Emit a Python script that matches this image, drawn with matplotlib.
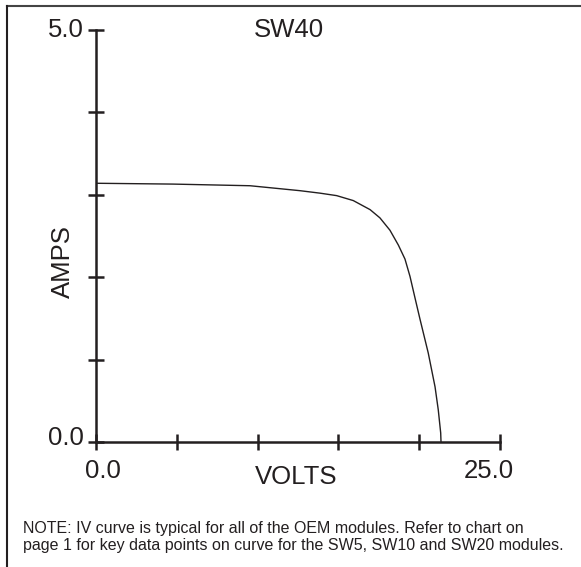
import numpy as np
import matplotlib.pyplot as plt
from matplotlib.lines import Line2D

plt.rcParams['font.family'] = ['Liberation Sans', 'DejaVu Sans']

# IV curve
volts = [0.0, 4.76, 9.53, 12.62, 13.86, 14.89, 15.92, 16.96, 17.57, 18.19,
         18.71, 19.12, 19.43, 19.75, 20.05, 20.56, 20.98, 21.18, 21.33, 21.35]
amps = [3.14, 3.13, 3.11, 3.05, 3.02, 2.99, 2.93, 2.82, 2.72, 2.57,
        2.39, 2.22, 2.01, 1.74, 1.49, 1.08, 0.67, 0.39, 0.11, 0.0]
x_ticks = [0, 5, 10, 15, 20, 25]
y_ticks = [0, 1, 2, 3, 4, 5]
title = "SW40"
note = ("NOTE: IV curve is typical for all of the OEM modules. Refer to chart on\n"
        "page 1 for key data points on curve for the SW5, SW10 and SW20 modules.")

ink = '#231f20'
W, H = 581, 567
fig = plt.figure(figsize=(W / 100, H / 100), dpi=100)
ax = fig.add_axes([96 / W, (H - 442) / H, 404 / W, 412 / H])

ax.plot(volts, amps, color=ink, lw=1.0, solid_joinstyle='round')
ax.set_xlim(0, 25)
ax.set_ylim(0, 5)
for s in ['top', 'right']:
    ax.spines[s].set_visible(False)
for s in ['left', 'bottom']:
    ax.spines[s].set_linewidth(1.8)
    ax.spines[s].set_color(ink)
ax.set_xticks(x_ticks)
ax.set_yticks(y_ticks)
ax.set_xticklabels([])
ax.set_yticklabels([])
ax.tick_params(direction='inout', length=11, width=1.8, color=ink)
ax.patch.set_visible(False)

fs = 18.5
ax.text(-0.75, 5.0, "5.0", ha='right', va='center', fontsize=fs, color=ink)
ax.text(-0.75, 0.05, "0.0", ha='right', va='center', fontsize=fs, color=ink)
ax.text(0.4, -0.35, "0.0", ha='center', va='center', fontsize=fs, color=ink)
ax.text(24.3, -0.35, "25.0", ha='center', va='center', fontsize=fs, color=ink)
ax.text(12.4, -0.43, "VOLTS", ha='center', va='center', fontsize=fs, color=ink)
ax.text(-2.05, 2.19, "AMPS", ha='center', va='center', rotation=90, fontsize=fs, color=ink)
ax.text(11.95, 5.0, title, ha='center', va='center', fontsize=fs, color=ink)

fig.text(23 / W, 1 - 537 / H, note, ha='left', va='center', fontsize=11.5,
         color=ink, linespacing=1.2)

# frame around the figure (cut off at right and bottom)
fig.add_artist(Line2D([7 / W, 1], [1 - 6 / H, 1 - 6 / H], color='#444444', lw=1.5))
fig.add_artist(Line2D([7 / W, 7 / W], [1 - 6 / H, 0], color=ink, lw=1.5))

fig.savefig('out.png', dpi=100)
